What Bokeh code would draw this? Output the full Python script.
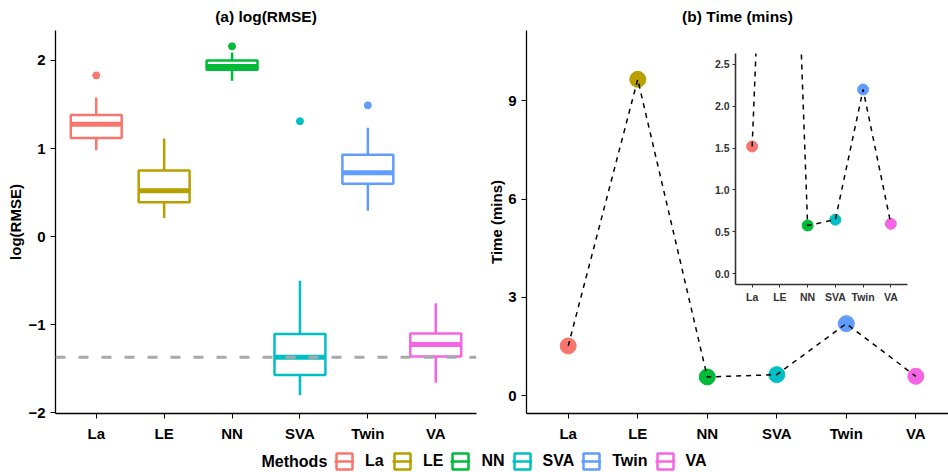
from bokeh.plotting import figure
from bokeh.models import (ColumnDataSource, Range1d, FixedTicker, Span, Legend,
                          LegendItem, GridBox, PrintfTickFormatter, Label)
from bokeh.embed import file_html
from bokeh.resources import INLINE

# ---------------- data ----------------
methods = ["La", "LE", "NN", "SVA", "Twin", "VA"]
colors = ["#F8766D", "#B79F00", "#00BA38", "#00BFC4", "#619CFF", "#F564E3"]

# log(RMSE) box statistics per method
whisker_low = [0.98, 0.21, 1.77, -1.80, 0.295, -1.66]
q1 = [1.12, 0.39, 1.895, -1.57, 0.60, -1.36]
median = [1.275, 0.52, 1.93, -1.37, 0.725, -1.225]
q3 = [1.38, 0.75, 2.00, -1.105, 0.93, -1.10]
whisker_high = [1.58, 1.115, 2.09, -0.50, 1.235, -0.755]
outlier_method = ["La", "NN", "SVA", "Twin"]
outlier_value = [1.83, 2.16, 1.31, 1.49]
reference_line = -1.37

# computing time (minutes)
time_mins = [1.52, 9.65, 0.575, 0.645, 2.20, 0.595]

rmse_ticks = [-2, -1, 0, 1, 2]
rmse_tick_labels = ["\u22122", "\u22121", "0", "1", "2"]
time_ticks = [0, 3, 6, 9]
inset_ticks = [0.0, 0.5, 1.0, 1.5, 2.0, 2.5]
legend_title = "Methods"

FONT = "Liberation Sans"
pos = [i + 1 for i in range(len(methods))]
xlabels = {p: m for p, m in zip(pos, methods)}
box_w = 0.75


def style_axes(p, size="15px", color="#000000", tick_out=5, lw=1.3):
    for ax in (p.xaxis[0], p.yaxis[0]):
        ax.major_label_text_font = FONT
        ax.major_label_text_font_style = "bold"
        ax.major_label_text_font_size = size
        ax.major_label_text_color = color
        ax.axis_label_text_font = FONT
        ax.axis_label_text_font_style = "bold"
        ax.axis_label_text_font_size = "15px"
        ax.axis_label_text_color = "#000000"
        ax.axis_line_color = color
        ax.axis_line_width = lw
        ax.major_tick_line_color = color
        ax.major_tick_line_width = 1
        ax.major_tick_out = tick_out
        ax.major_tick_in = 0
        ax.minor_tick_line_color = None
    p.xgrid.visible = False
    p.ygrid.visible = False
    p.outline_line_color = None
    p.xaxis.ticker = FixedTicker(ticks=pos)
    p.xaxis.major_label_overrides = xlabels


def style_title(p):
    p.title.text_font = FONT
    p.title.text_font_style = "bold"
    p.title.text_font_size = "15.5px"
    p.title.align = "center"
    p.title.text_color = "#000000"
    p.title.standoff = 11
    p.title.vertical_align = "bottom"


# ---------------- (a) boxplot ----------------
left = figure(width=480, height=445, x_range=Range1d(0.4, 6.6), y_range=Range1d(-2.008, 2.34),
              output_backend="svg", toolbar_location=None, title="(a) log(RMSE)",
              min_border_left=55, min_border_right=4, min_border_top=30, min_border_bottom=32)
style_axes(left)
style_title(left)
left.yaxis.ticker = FixedTicker(ticks=rmse_ticks)
left.yaxis.major_label_overrides = {t: l for t, l in zip(rmse_ticks, rmse_tick_labels)}
left.yaxis.axis_label = "log(RMSE)"
left.yaxis.axis_label_standoff = 1
left.xaxis.major_label_standoff = 6
left.yaxis.major_label_standoff = 5

bsrc = ColumnDataSource(dict(
    x=pos, color=colors, lo=whisker_low, q1=q1, med=median, q3=q3, hi=whisker_high,
    x0=[p - box_w / 2 for p in pos], x1=[p + box_w / 2 for p in pos]))
left.segment(x0="x", y0="lo", x1="x", y1="hi", line_color="color", line_width=2.5, source=bsrc)
left.vbar(x="x", width=box_w, bottom="q1", top="q3", fill_color="white",
          line_color="color", line_width=2.5, source=bsrc)
left.segment(x0="x0", y0="med", x1="x1", y1="med", line_color="color", line_width=5, source=bsrc)
ox = [pos[methods.index(m)] for m in outlier_method]
oc = [colors[methods.index(m)] for m in outlier_method]
left.scatter(x=ox, y=outlier_value, color=oc, size=7)
left.add_layout(Span(location=reference_line, dimension="width", line_color="#A9A9A9",
                     line_width=3, line_dash="10 13"))

# ---------------- (b) time ----------------
tsrc = ColumnDataSource(dict(x=pos, t=time_mins, color=colors))
right = figure(width=468, height=445, x_range=Range1d(0.4, 6.47), y_range=Range1d(-0.54, 11.14),
               output_backend="svg", toolbar_location=None, title="(b) Time (mins)",
               min_border_left=46, min_border_right=0, min_border_top=30, min_border_bottom=32)
style_axes(right)
style_title(right)
right.title.offset = 4
right.yaxis.ticker = FixedTicker(ticks=time_ticks)
right.yaxis.axis_label = "Time (mins)"
right.yaxis.axis_label_standoff = 0
right.xaxis.major_label_standoff = 6
right.yaxis.major_label_standoff = 5
right.scatter(x="x", y="t", color="color", size=16, source=tsrc)
right.line(x="x", y="t", line_color="black", line_width=1.5, line_dash="5 5", source=tsrc)

# ---------------- inset ----------------
inset = figure(width=210, height=255, x_range=Range1d(0.4, 6.6), y_range=Range1d(-0.13, 2.63),
               output_backend="svg", toolbar_location=None,
               min_border_left=35, min_border_right=3, min_border_top=3, min_border_bottom=20,
               background_fill_color=None, border_fill_color=None)
style_axes(inset, size="10.5px", color="#333333", tick_out=3, lw=1.6)
inset.yaxis.ticker = FixedTicker(ticks=inset_ticks)
inset.yaxis.formatter = PrintfTickFormatter(format="%.1f")
inset.xaxis.major_label_standoff = 3
inset.yaxis.major_label_standoff = 3
inset.scatter(x="x", y="t", color="color", size=11, source=tsrc)
inset.line(x="x", y="t", line_color="black", line_width=1.5, line_dash="5 5", source=tsrc)

# ---------------- legend ----------------
leg = figure(width=948, height=27, output_backend="svg", toolbar_location=None,
             x_axis_type=None, y_axis_type=None, min_border=0,
             min_border_left=0, min_border_right=0, min_border_top=0, min_border_bottom=0,
             x_range=Range1d(0, 948), y_range=Range1d(0, 27))
leg.outline_line_color = None
leg.xgrid.visible = False
leg.ygrid.visible = False
items = []
for i, m in enumerate(methods):
    s = ColumnDataSource(dict(x=[pos[i]], q1=[q1[i]], q3=[q3[i]], med=[median[i]],
                              x0=[pos[i] - box_w / 2], x1=[pos[i] + box_w / 2]))
    rb = leg.vbar(x="x", width=box_w, bottom="q1", top="q3", fill_color="white",
                  line_color=colors[i], line_width=2.5, source=s)
    rm = leg.segment(x0="x0", y0="med", x1="x1", y1="med", line_color=colors[i],
                     line_width=2.5, source=s)
    rb.visible = False
    rm.visible = False
    items.append(LegendItem(label=m, renderers=[rb, rm]))
legend = Legend(items=items, orientation="horizontal", location=(279, 1))
legend.label_text_font = FONT
legend.label_text_font_style = "bold"
legend.label_text_font_size = "16px"
legend.label_text_color = "#000000"
legend.glyph_width = 20
legend.glyph_height = 20
legend.label_height = 20
legend.label_standoff = 11
legend.spacing = 7
legend.padding = 0
legend.margin = 0
legend.border_line_color = None
legend.background_fill_alpha = 0
legend.inactive_fill_alpha = 0
leg.add_layout(legend, "center")
leg.add_layout(Label(x=206, y=11, x_units="screen", y_units="screen", text=legend_title,
                     text_font=FONT, text_font_style="bold", text_color="#000000",
                     text_font_size="16px", text_baseline="middle", text_align="left"))

grid = GridBox(children=[(left, 0, 0, 3, 1), (right, 0, 1, 3, 3), (inset, 1, 2, 1, 1),
                         (leg, 3, 0, 1, 4)],
               rows=["50px", "255px", "140px", "27px"],
               cols=["480px", "220px", "210px", "38px"], spacing=0)

open("out.html", "w").write(file_html(grid, INLINE))
